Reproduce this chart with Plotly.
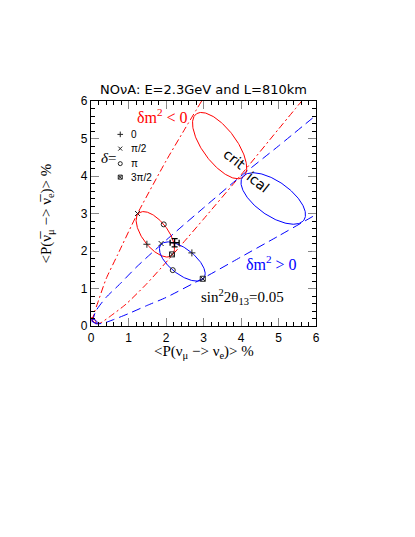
import numpy as np
import plotly.graph_objects as go

# ---- data ----
# small ellipses: points at delta = 0, pi/2, pi, 3pi/2
red_small_x = [1.49, 1.24, 1.94, 2.16]
red_small_y = [2.18, 3.00, 2.71, 1.91]
blue_small_x = [2.69, 1.87, 2.18, 2.98]
blue_small_y = [1.95, 2.20, 1.49, 1.26]

# large ellipses (critical): centre, semi-axes, tilt (deg)
red_big = dict(cx=3.43, cy=4.81, a=1.05, b=0.45, ang=-53.4)
blue_big = dict(cx=4.86, cy=3.40, a=1.00, b=0.46, ang=-35.0)
red_tiny = dict(cx=0.07, cy=0.16, a=0.09, b=0.035, ang=-55.0)
blue_tiny = dict(cx=0.09, cy=0.13, a=0.09, b=0.04, ang=-35.0)

# envelope curves
red_steep_x = [0.03, 0.08, 0.18, 0.40, 0.71, 1.20, 2.00, 2.50, 2.95]
red_steep_y = [0.12, 0.33, 0.62, 1.25, 1.90, 2.92, 4.40, 5.25, 6.00]
red_low_x = [0.12, 0.25, 0.50, 0.93, 1.47, 1.87, 2.58, 3.00, 4.00, 5.00, 5.62]
red_low_y = [0.06, 0.08, 0.25, 0.58, 1.11, 1.55, 2.36, 2.85, 4.03, 5.25, 6.00]
blue_up_x = [0.03, 0.13, 0.40, 0.76, 1.20, 1.60, 2.13, 3.00, 4.00, 5.00, 6.00]
blue_up_y = [0.10, 0.40, 0.76, 1.11, 1.56, 1.93, 2.40, 3.15, 4.00, 4.80, 5.62]
blue_low_x = [0.05, 0.15, 0.35, 0.60, 1.00, 1.50, 2.00, 3.00, 4.00, 5.00, 6.00]
blue_low_y = [0.12, 0.06, 0.08, 0.17, 0.33, 0.55, 0.76, 1.28, 1.84, 2.40, 2.97]

# measured point with errors
meas_x, meas_y = [2.23], [2.22]
meas_ex, meas_ey = [0.12], [0.11]

legend_labels = ["0", "π/2", "π", "3π/2"]
legend_y = [5.11, 4.73, 4.33, 3.97]
symbols = ["cross-thin-open", "x-thin-open", "circle-open", "square-x-open"]

RED, BLUE = "#ff0000", "#0000ff"

def ell4(xs, ys, n=200):
    t = np.linspace(0, 2*np.pi, n)
    cx = (xs[0]+xs[2])/2; cy = (ys[0]+ys[2])/2
    ax = (xs[0]-xs[2])/2; ay = (ys[0]-ys[2])/2
    bx = (xs[1]-xs[3])/2; by = (ys[1]-ys[3])/2
    return cx+ax*np.cos(t)+bx*np.sin(t), cy+ay*np.cos(t)+by*np.sin(t)

def ellp(p, n=200):
    t = np.linspace(0, 2*np.pi, n)
    th = np.radians(p["ang"])
    u, v = p["a"]*np.cos(t), p["b"]*np.sin(t)
    return p["cx"]+u*np.cos(th)-v*np.sin(th), p["cy"]+u*np.sin(th)+v*np.cos(th)

fig = go.Figure()
dd = "7px,3px,2px,3px"
for xs, ys in [(red_steep_x, red_steep_y), (red_low_x, red_low_y)]:
    fig.add_trace(go.Scatter(x=xs, y=ys, mode="lines",
                             line=dict(color=RED, width=1, dash=dd, shape="spline", smoothing=0.6)))
for xs, ys in [(blue_up_x, blue_up_y), (blue_low_x, blue_low_y)]:
    fig.add_trace(go.Scatter(x=xs, y=ys, mode="lines",
                             line=dict(color=BLUE, width=1, dash="9px,5px", shape="spline", smoothing=0.6)))

for p, c in [(red_big, RED), (blue_big, BLUE), (red_tiny, RED), (blue_tiny, BLUE)]:
    ex, ey = ellp(p)
    fig.add_trace(go.Scatter(x=ex, y=ey, mode="lines", line=dict(color=c, width=1)))
for xs, ys, c in [(red_small_x, red_small_y, RED), (blue_small_x, blue_small_y, BLUE)]:
    ex, ey = ell4(xs, ys)
    fig.add_trace(go.Scatter(x=ex, y=ey, mode="lines", line=dict(color=c, width=1)))
    for i in range(4):
        fig.add_trace(go.Scatter(x=[xs[i]], y=[ys[i]], mode="markers",
                                 marker=dict(symbol=symbols[i], size=5, color="#222222",
                                             line=dict(color="#222222", width=1))))

fig.add_trace(go.Scatter(x=meas_x, y=meas_y, mode="markers",
                         marker=dict(size=1, color="black"),
                         error_x=dict(type="data", array=meas_ex, color="black", thickness=1.3, width=3),
                         error_y=dict(type="data", array=meas_ey, color="black", thickness=1.3, width=3)))

# legend
for i in range(4):
    fig.add_trace(go.Scatter(x=[0.78], y=[legend_y[i]], mode="markers",
                             marker=dict(symbol=symbols[i], size=4, color="#222222",
                                         line=dict(color="#222222", width=1))))
    fig.add_annotation(x=1.0, y=legend_y[i], text=legend_labels[i], showarrow=False,
                       xanchor="left", font=dict(family="Liberation Sans", size=10, color="black"))
fig.add_annotation(x=0.2, y=4.47, text="<i>δ</i>=", showarrow=False, xanchor="left",
                   font=dict(family="Liberation Serif", size=15, color="black"))

serif = "Liberation Serif"
fig.add_annotation(x=1.9, y=5.6, text="δm<sup>2</sup> < 0", showarrow=False,
                   font=dict(family=serif, size=16, color=RED))
fig.add_annotation(x=4.8, y=1.69, text="δm<sup>2</sup> > 0", showarrow=False,
                   font=dict(family=serif, size=16, color=BLUE))
fig.add_annotation(x=4.03, y=0.77, text="sin<sup>2</sup>2θ<sub>13</sub>=0.05", showarrow=False,
                   font=dict(family=serif, size=15, color="black"))
fig.add_annotation(x=3.82, y=4.46, text="crit", showarrow=False, textangle=38,
                   font=dict(family="DejaVu Sans", size=14, color="black"))
fig.add_annotation(x=4.45, y=3.84, text="ical", showarrow=False, textangle=38,
                   font=dict(family="DejaVu Sans", size=14, color="black"))

fig.add_annotation(xref="paper", yref="paper", x=0.5, y=1.0, yanchor="bottom", yshift=2,
                   text="NOνA: E=2.3GeV and L=810km", showarrow=False,
                   font=dict(family="DejaVu Sans", size=13, color="black"))
fig.add_annotation(xref="paper", yref="paper", x=0.5, y=0, yanchor="middle", yshift=-26,
                   text="<P(ν<sub>μ</sub> −> ν<sub>e</sub>)> %", showarrow=False,
                   font=dict(family=serif, size=15, color="black"))
fig.add_annotation(xref="paper", yref="paper", x=0, xanchor="center", xshift=-45,
                   y=0.5, yanchor="middle", textangle=-90,
                   text="<P(ν̅<sub>μ</sub> −> ν̅<sub>e</sub>)> %", showarrow=False,
                   font=dict(family=serif, size=15, color="black"))

ax = dict(range=[0, 6], dtick=1, tick0=0, ticks="inside", ticklen=8, tickwidth=1.3,
          tickcolor="#888888", showline=True, linecolor="black", linewidth=1.3,
          mirror="allticks", showgrid=False, zeroline=False,
          tickfont=dict(family="Liberation Sans", size=12, color="black"),
          minor=dict(ticks="inside", dtick=0.2, ticklen=4, tickcolor="black", tickwidth=1))
fig.update_xaxes(**ax)
fig.update_yaxes(**ax)
fig.update_layout(width=415, height=537, showlegend=False,
                  margin=dict(l=83, r=107, t=93, b=219),
                  plot_bgcolor="white", paper_bgcolor="white")
fig.write_html("out.html")
